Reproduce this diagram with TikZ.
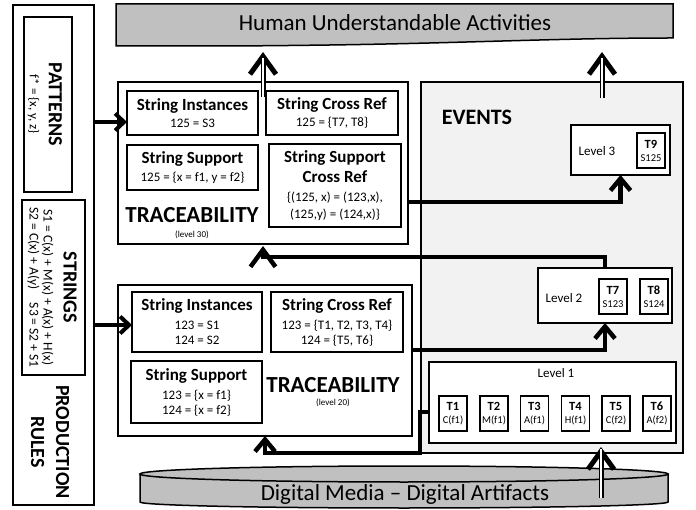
\documentclass[tikz,border=0pt]{standalone}
\usepackage{fontspec}
\setmainfont{Carlito}
\usetikzlibrary{arrows.meta}
\definecolor{bandgray}{HTML}{C0C0C0}
\definecolor{eventfill}{HTML}{F2F2F2}
\newcommand\fs[2]{\fontsize{#1}{#2}\selectfont}
\newcommand\hd[1]{{\fs{17}{20}\bfseries #1}}
\newcommand\tb[1]{{\fs{12.5}{14}\bfseries #1}}

\begin{document}
\begin{tikzpicture}[x=1pt,y=-1pt,
  every node/.style={inner sep=0pt, outer sep=0pt},
  panel/.style={draw, line width=1.8pt, fill=white},
  subpanel/.style={draw, line width=1.5pt, fill=white},
  cell/.style={draw, line width=1.3pt, fill=white, align=center, font=\fs{13}{16}},
  tbox/.style={draw, line width=1.3pt, fill=white, minimum width=28pt, minimum height=35pt, align=center, font=\fs{10.5}{13}},
  link/.style={line width=4.5pt, -{Straight Barb[length=12pt, width=20pt]}},
  sidelink/.style={line width=4pt, -{Straight Barb[length=9pt, width=17pt]}},
  biglink/.style={line width=4.5pt, -{Straight Barb[length=17pt, width=25pt]}},
  dlink/.style={line width=5pt, -{Straight Barb[length=18pt, width=26pt]},
    postaction={draw=white, line width=2pt, -, shorten >=6pt}},
]
\useasboundingbox (0,0) rectangle (696,510);

% ---- top band: human understandable activities
\draw[line width=1.5pt, fill=bandgray] (116,4) -- (673,4) -- (673,38)
  .. controls (560,38) and (470,43) .. (330,45) .. controls (250,46) .. (116,46) -- cycle;
\node[font=\fs{23}{25}] (hua) at (395,23) {Human Understandable Activities};

% ---- bottom cylinder: digital media
\draw[line width=1.5pt, fill=bandgray] (140,474) -- (140,502)
  arc[start angle=180, end angle=0, x radius=264, y radius=6] -- (668,474) -- cycle;
\draw[line width=1.5pt, fill=bandgray] (404,474) ellipse[x radius=264, y radius=8];
\node[font=\fs{23}{25}] (dm) at (405,494) {Digital Media -- Digital Artifacts};

% ---- production rules column
\node[panel, minimum width=81pt, minimum height=500pt] (prod) at (53.5,255) {};
\node[subpanel, minimum width=48pt, minimum height=175pt] (pat) at (48,104.5) {};
\node[rotate=-90, align=center, font=\fs{13}{19}] (patt) at (45,104.5)
  {{\fs{20}{22}\bfseries PATTERNS}\\ f* = \{x, y, z\}};
\node[subpanel, minimum width=63pt, minimum height=175pt] (str) at (53.5,287.5) {};
\node[rotate=-90, align=center, font=\fs{13.5}{14}] (strt) at (52,287.5)
  {{\fs{20}{22}\bfseries STRINGS}\\[6pt] S1 = C(x) + M(x) + A(x) + H(x)\\ S2 = C(x) + A(y)\quad S3 = S2 + S1};
\node[rotate=-90, align=center, font=\fs{20}{25}\bfseries] (prodt) at (50,442) {PRODUCTION\\RULES};

% ---- traceability, level 30
\node[panel, minimum width=290pt, minimum height=162pt] (tr30) at (263,163) {};
\node[cell, minimum width=131pt, minimum height=44pt] (si30) at (192.5,113)
  {\hd{String Instances}\\[1pt] 125 = S3};
\node[cell, minimum width=132pt, minimum height=44pt] (scr30) at (332,113)
  {\hd{String Cross Ref}\\[1pt] 125 = \{T7, T8\}};
\node[cell, minimum width=131pt, minimum height=45pt] (ss30) at (192.5,167.5)
  {\hd{String Support}\\[2pt] 125 = \{x = f1, y = f2\}};
\node[cell, minimum width=132pt, minimum height=83pt] (sscr30) at (335,185.5)
  {\hd{String Support}\\[4pt]\hd{Cross Ref}\\[3pt] \{(125, x) = (123,x),\\[1pt] (125,y) = (124,x)\}};
\node[font=\fs{23}{26}\bfseries] (trl30) at (192,215) {TRACEABILITY};
\node[font=\fs{9}{10}] (lvl30) at (192,235) {(level 30)};

% ---- traceability, level 20
\node[panel, minimum width=294pt, minimum height=151pt] (tr20) at (265,360.5) {};
\node[cell, minimum width=130pt, minimum height=60pt] (si20) at (197,322)
  {\hd{String Instances}\\[3pt] 123 = S1\\[-1pt] 124 = S2};
\node[cell, minimum width=132pt, minimum height=60pt] (scr20) at (337,322)
  {\hd{String Cross Ref}\\[3pt] 123 = \{T1, T2, T3, T4\}\\[-1pt] 124 = \{T5, T6\}};
\node[cell, minimum width=131pt, minimum height=62pt] (ss20) at (196.5,392)
  {\hd{String Support}\\[3pt] 123 = \{x = f1\}\\[-1pt] 124 = \{x = f2\}};
\node[font=\fs{23}{26}\bfseries] (trl20) at (333,385) {TRACEABILITY};
\node[font=\fs{9}{10}] (lvl20) at (333,403) {(level 20)};

% ---- events
\node[panel, fill=eventfill, minimum width=262pt, minimum height=371pt] (ev) at (552,267.5) {};
\node[font=\fs{22}{24}\bfseries] (evt) at (477,117) {EVENTS};

\node[cell, minimum width=99pt, minimum height=50pt] (lv3) at (620.5,150) {};
\node[font=\fs{13}{15}] (lv3t) at (597,151) {Level 3};
\node[tbox] (t9) at (651,150.5) {\tb{T9}\\ S125};

\node[cell, minimum width=134pt, minimum height=55pt] (lv2) at (605,295.5) {};
\node[font=\fs{13}{15}] (lv2t) at (564,298) {Level 2};
\node[tbox] (t7) at (613,296.5) {\tb{T7}\\ S123};
\node[tbox] (t8) at (654,296.5) {\tb{T8}\\ S124};

\node[cell, minimum width=247pt, minimum height=81pt] (lv1) at (552.5,402.5) {};
\node[font=\fs{13}{15}] (lv1t) at (556,373) {Level 1};
\node[tbox] (t1) at (453,413.5) {\tb{T1}\\ C(f1)};
\node[tbox] (t2) at (494,413.5) {\tb{T2}\\ M(f1)};
\node[tbox] (t3) at (534.5,413.5) {\tb{T3}\\ A(f1)};
\node[tbox] (t4) at (575.5,413.5) {\tb{T4}\\ H(f1)};
\node[tbox] (t5) at (616,413.5) {\tb{T5}\\ C(f2)};
\node[tbox] (t6) at (657,413.5) {\tb{T6}\\ A(f2)};

% ---- connectors
\coordinate (upl) at (263,52);
\coordinate (upr) at (602,52);
\coordinate (evtop) at (upr |- ev.north);
\coordinate (dmup) at (601,498);

\draw[sidelink] (prod.east |- 0,122) -- (si30.west |- 0,122);
\draw[sidelink] (prod.east |- 0,325) -- (si20.west |- 0,325);
\draw[link] (tr30.east |- 0,202) -| (lv3.south);
\draw[biglink, shorten >=2pt] (lv2.north) |- ([yshift=-13pt]tr30.south) -- (tr30.south);
\draw[link] (tr20.east |- 0,350) -| (lv2.south);
\draw[link] (lv1.west |- 0,412) -| (420,453) -| (tr20.south);

\draw[dlink] ([yshift=-15pt]tr30.north) -- (upl);
\draw[dlink] ([yshift=-16pt]evtop) -- (upr);
\draw[dlink, shorten >=4pt] (dmup) -- (lv1.south -| dmup);
\end{tikzpicture}
\end{document}
